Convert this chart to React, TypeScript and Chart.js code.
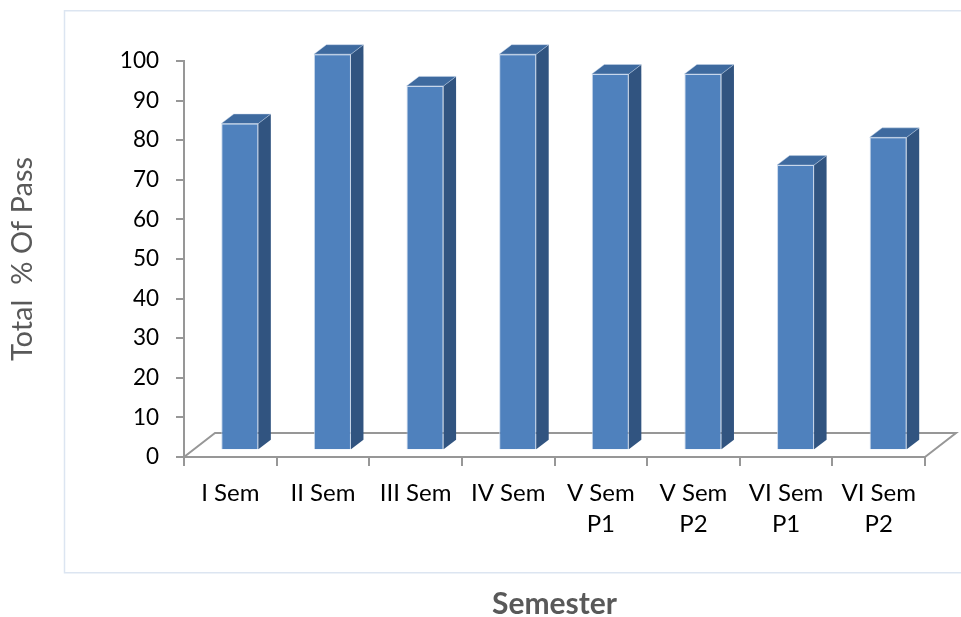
import React, { useEffect, useRef } from "react";
import { Chart, registerables } from "chart.js";

Chart.register(...registerables);

// ---- data ----
const categories: string[][] = [
  ["I Sem"],
  ["II Sem"],
  ["III Sem"],
  ["IV Sem"],
  ["V Sem", "P1"],
  ["V Sem", "P2"],
  ["VI Sem", "P1"],
  ["VI Sem", "P2"],
];
const passPercent: number[] = [82.5, 100, 92, 100, 95, 95, 72, 79];
const yMin = 0;
const yMax = 100;
const yStep = 10;
const yAxisTitle = "Total  % Of Pass";
const xAxisTitle = "Semester";

// ---- 3D look ----
const FLOOR_DX = 31;
const FLOOR_DY = -24;
const BAR_SHIFT_X = 9.5;
const BAR_SHIFT_Y = -6.8;
const BAR_DX = 12.5;
const BAR_DY = -9.5;
const AXIS_COLOR = "#979797";

const threeDPlugin = {
  id: "threeD",
  beforeDraw(chart: any) {
    const { ctx } = chart;
    ctx.save();
    ctx.strokeStyle = "#DCE5F1";
    ctx.lineWidth = 1.5;
    ctx.beginPath();
    ctx.moveTo(chart.width + 5, 10.75);
    ctx.lineTo(64.5, 10.75);
    ctx.lineTo(64.5, 572.75);
    ctx.lineTo(chart.width + 5, 572.75);
    ctx.stroke();
    ctx.restore();
  },
  beforeDatasetsDraw(chart: any) {
    const { ctx, chartArea: a } = chart;
    ctx.save();
    ctx.strokeStyle = AXIS_COLOR;
    ctx.lineWidth = 2;
    ctx.lineJoin = "miter";
    ctx.beginPath();
    ctx.moveTo(a.left, a.bottom);
    ctx.lineTo(a.left + FLOOR_DX, a.bottom + FLOOR_DY);
    ctx.lineTo(a.right + FLOOR_DX, a.bottom + FLOOR_DY);
    ctx.lineTo(a.right, a.bottom);
    ctx.stroke();
    ctx.restore();
    ctx.save();
    ctx.translate(BAR_SHIFT_X, BAR_SHIFT_Y);
  },
  afterDatasetsDraw(chart: any) {
    const { ctx } = chart;
    const meta = chart.getDatasetMeta(0);
    meta.data.forEach((bar: any) => {
      const { x, y, base, width } = bar.getProps(["x", "y", "base", "width"], true);
      const l = x - width / 2;
      const r = x + width / 2;
      // side face
      ctx.fillStyle = "#315480";
      ctx.beginPath();
      ctx.moveTo(r, y);
      ctx.lineTo(r + BAR_DX, y + BAR_DY);
      ctx.lineTo(r + BAR_DX, base + BAR_DY);
      ctx.lineTo(r, base);
      ctx.closePath();
      ctx.fill();
      // top face
      ctx.fillStyle = "#3E6A9F";
      ctx.beginPath();
      ctx.moveTo(l, y);
      ctx.lineTo(l + BAR_DX, y + BAR_DY);
      ctx.lineTo(r + BAR_DX, y + BAR_DY);
      ctx.lineTo(r, y);
      ctx.closePath();
      ctx.fill();
      ctx.strokeStyle = "rgba(200,215,235,0.45)";
      ctx.lineWidth = 1;
      ctx.stroke();
    });
    ctx.restore();
  },
};

export default function App() {
  const canvasRef = useRef<HTMLCanvasElement | null>(null);

  useEffect(() => {
    if (!canvasRef.current) return;
    Chart.defaults.font.family = "Lato, 'Open Sans', sans-serif";
    const chart = new Chart(canvasRef.current, {
      type: "bar",
      data: {
        labels: categories as any,
        datasets: [
          {
            label: "Total % Of Pass",
            data: passPercent,
            backgroundColor: "#4F81BD",
            borderColor: "rgba(190,208,232,0.85)",
            borderWidth: 1,
            categoryPercentage: 1,
            barPercentage: 0.4,
            clip: false as any,
          },
        ],
      },
      options: {
        animation: false,
        responsive: true,
        maintainAspectRatio: false,
        layout: { padding: { left: 9, right: 36, top: 61, bottom: 0 } },
        plugins: {
          legend: { display: false },
          tooltip: { enabled: false },
        },
        scales: {
          x: {
            afterFit: (s: any) => {
              s.height = 160;
            },
            grid: {
              display: true,
              drawOnChartArea: false,
              drawTicks: true,
              tickLength: 9,
              color: AXIS_COLOR,
              lineWidth: 2,
            },
            border: { display: true, color: AXIS_COLOR, width: 2 },
            ticks: {
              color: "#000",
              padding: 12,
              maxRotation: 0,
              autoSkip: false,
              font: { size: 24, lineHeight: "31px" as any },
            },
            title: {
              display: true,
              text: xAxisTitle,
              color: "#595959",
              padding: 0,
              font: { size: 30, weight: "bold", lineHeight: "26px" as any },
            },
          },
          y: {
            min: yMin,
            max: yMax,
            afterFit: (s: any) => {
              s.width = 175;
            },
            grid: {
              display: true,
              drawOnChartArea: false,
              drawTicks: true,
              tickLength: 8,
              color: AXIS_COLOR,
              lineWidth: 2,
            },
            border: { display: true, color: AXIS_COLOR, width: 2 },
            ticks: {
              stepSize: yStep,
              color: "#000",
              padding: 17,
              font: { size: 22.5 },
            },
            title: {
              display: true,
              text: yAxisTitle,
              color: "#595959",
              padding: 0,
              font: { size: 29, weight: "normal", lineHeight: "28px" as any },
            },
          },
        },
      },
      plugins: [threeDPlugin],
    });
    return () => chart.destroy();
  }, []);

  return (
    <div style={{ position: "fixed", left: 0, top: 0, width: 961, height: 617, background: "#fff" }}>
      <canvas ref={canvasRef} />
    </div>
  );
}
